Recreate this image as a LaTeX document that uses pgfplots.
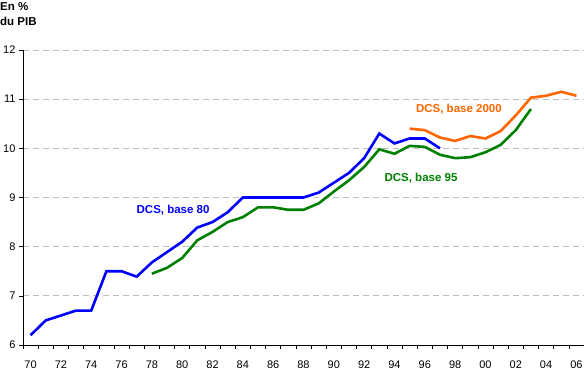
\documentclass[border=0pt]{standalone}
\usepackage{pgfplots}
\pgfplotsset{compat=1.18}
\usepackage{fontspec}
\setmainfont{Liberation Sans}
\definecolor{cblue}{RGB}{0,0,255}
\definecolor{cgreen}{RGB}{0,128,0}
\definecolor{corange}{RGB}{255,102,0}
\begin{document}
\begin{tikzpicture}[x=1pt,y=1pt]
\useasboundingbox (0,0) rectangle (584,372);
\begin{axis}[
  at={(23pt,27pt)}, anchor=south west,
  scale only axis, width=561pt, height=295pt,
  xmin=1969.5, xmax=2006.5, ymin=6, ymax=12,
  axis lines=left, axis line style={-, black, line width=0.8pt},
  xtick={1970,1972,...,2006},
  xticklabels={70,72,74,76,78,80,82,84,86,88,90,92,94,96,98,00,02,04,06},
  minor xtick={1969.5,1970.5,...,2006.5},
  ytick={6,7,...,12},
  tick align=outside,
  major x tick style={draw=none},
  minor tick length=4pt,
  major tick length=4pt,
  tick style={black, line width=0.6pt},
  ymajorgrids, grid style={dashed, gray!50, line width=0.8pt, dash pattern=on 6pt off 4pt},
  every tick label/.append style={font=\fontsize{11}{13}\selectfont},
  xticklabel style={yshift=-8pt},
  /pgf/number format/assume math mode=true,
  clip=false,
]
\addplot[cblue, line width=2.6pt] coordinates {
(1970,6.2)(1971,6.5)(1972,6.6)(1973,6.7)(1974,6.7)(1975,7.5)(1976,7.5)(1977,7.39)
(1978,7.68)(1979,7.89)(1980,8.1)(1981,8.39)(1982,8.5)(1983,8.7)(1984,9.0)(1985,9.0)
(1986,9.0)(1987,9.0)(1988,9.0)(1989,9.1)(1990,9.3)(1991,9.5)(1992,9.8)(1993,10.3)
(1994,10.1)(1995,10.2)(1996,10.2)(1997,10.0)};
\addplot[cgreen, line width=2.6pt] coordinates {
(1978,7.45)(1979,7.57)(1980,7.77)(1981,8.13)(1982,8.3)(1983,8.5)(1984,8.6)(1985,8.8)
(1986,8.8)(1987,8.75)(1988,8.75)(1989,8.88)(1990,9.12)(1991,9.35)(1992,9.62)(1993,9.98)
(1994,9.89)(1995,10.05)(1996,10.03)(1997,9.87)(1998,9.8)(1999,9.82)(2000,9.92)(2001,10.07)
(2002,10.37)(2003,10.8)};
\addplot[corange, line width=2.6pt] coordinates {
(1995,10.4)(1996,10.37)(1997,10.22)(1998,10.15)(1999,10.25)(2000,10.2)(2001,10.35)
(2002,10.67)(2003,11.03)(2004,11.07)(2005,11.15)(2006,11.07)};
\node[cblue, font=\bfseries\fontsize{11.5}{13}\selectfont] at (axis cs:1979.4,8.74) {DCS, base 80};
\node[cgreen, font=\bfseries\fontsize{11.5}{13}\selectfont] at (axis cs:1995.75,9.4) {DCS, base 95};
\node[corange, font=\bfseries\fontsize{11.5}{13}\selectfont] at (axis cs:1998.25,10.8) {DCS, base 2000};
\end{axis}
\node[anchor=north west, align=left, inner sep=0pt, font=\bfseries\fontsize{11.5}{15}\selectfont] at (0,370) {En \%\\du PIB};
\end{tikzpicture}
\end{document}
